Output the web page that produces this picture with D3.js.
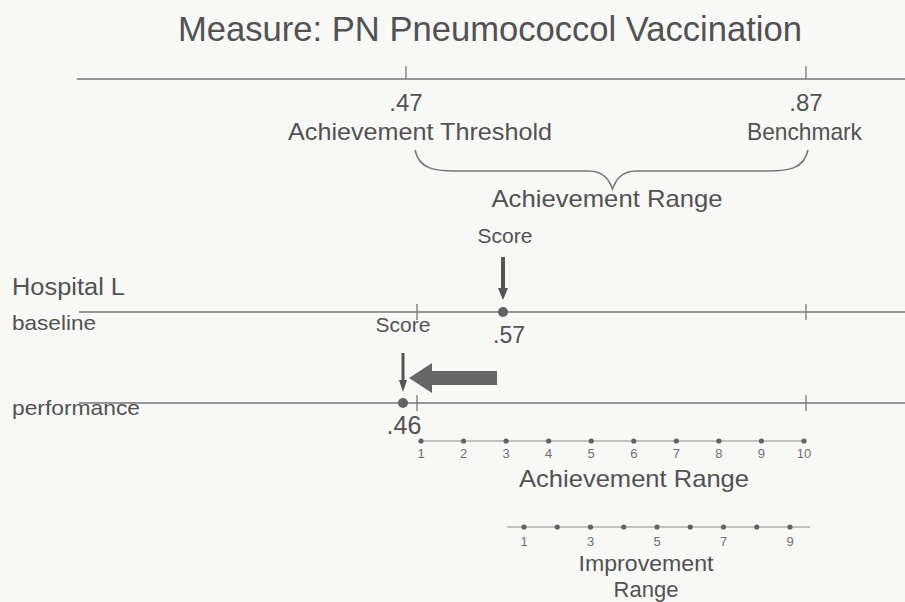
<!DOCTYPE html>
<html>
<head>
<meta charset="utf-8">
<script src="https://cdn.jsdelivr.net/npm/d3@7"></script>
<style>
  html, body { margin: 0; padding: 0; background: #f8f8f7; }
  svg { display: block; font-family: "Liberation Sans", Arial, sans-serif; }
</style>
</head>
<body>
<svg id="chart" width="905" height="602"></svg>
<script>
// ---- data ----
const title = "Measure: PN Pneumococcol Vaccination";
const thresholdValues = [0.47, 0.87];
const thresholdLabels = [".47", ".87"];
const thresholdNames = ["Achievement Threshold", "Benchmark"];
const hospitalName = "Hospital L";
const periodNames = ["baseline", "performance"];
const scoreValues = [0.57, 0.46];
const scoreLabels = [".57", ".46"];
const achievementPoints = [1, 2, 3, 4, 5, 6, 7, 8, 9, 10];
const improvementPoints = [1, 2, 3, 4, 5, 6, 7, 8, 9];
const improvementTickLabels = [1, 3, 5, 7, 9];

// ---- setup ----
const svg = d3.select("#chart");
const textCol = "#525252";
const lineCol = "#777777";
const markCol = "#626262";

// scales
const xTop = d3.scaleLinear().domain([0.47, 0.87]).range([406, 806]);
const xHosp = d3.scaleLinear().domain([0.46, 0.47, 0.57, 0.87]).range([403, 417, 503, 806]);
const xAch = d3.scaleLinear().domain([1, 10]).range([421, 804]);
const xImp = d3.scaleLinear().domain([1, 9]).range([524, 790]);

// title
svg.append("text").attr("x", 490).attr("y", 41).attr("text-anchor", "middle")
  .attr("font-size", 35).attr("fill", textCol)
  .attr("textLength", 624).attr("lengthAdjust", "spacingAndGlyphs").text(title);

// top axis line
const yTop = 79;
svg.append("line").attr("x1", 77).attr("x2", 905).attr("y1", yTop).attr("y2", yTop)
  .attr("stroke", lineCol).attr("stroke-width", 1.7);
svg.selectAll(".ttick").data(thresholdValues).join("line")
  .attr("x1", d => xTop(d)).attr("x2", d => xTop(d))
  .attr("y1", yTop - 13).attr("y2", yTop)
  .attr("stroke", lineCol).attr("stroke-width", 1.3);
svg.selectAll(".tval").data(thresholdValues).join("text")
  .attr("x", d => xTop(d)).attr("y", 111).attr("text-anchor", "middle")
  .attr("font-size", 24).attr("fill", textCol)
  .text((d, i) => thresholdLabels[i]);
svg.selectAll(".tname").data(thresholdValues).join("text")
  .attr("x", (d, i) => i === 0 ? xTop(d) + 14 : xTop(d) - 1.5).attr("y", 140).attr("text-anchor", "middle")
  .attr("font-size", 24).attr("fill", textCol)
  .attr("textLength", (d, i) => i === 0 ? 264 : 115).attr("lengthAdjust", "spacingAndGlyphs")
  .text((d, i) => thresholdNames[i]);

// brace under the achievement range
const bL = xTop(0.47) + 9, bR = xTop(0.87) + 2, bM = (bL + bR) / 2 + 1;
const bTop = 150, bMid = 171, bTip = 189;
const brace = `M${bL},${bTop} C${bL + 4},${bMid - 2} ${bL + 20},${bMid} ${bL + 40},${bMid}
  L${bM - 24},${bMid} C${bM - 8},${bMid} ${bM - 3},${bTip - 8} ${bM},${bTip}
  C${bM + 3},${bTip - 8} ${bM + 8},${bMid} ${bM + 24},${bMid}
  L${bR - 40},${bMid} C${bR - 20},${bMid} ${bR - 4},${bMid - 2} ${bR},${bTop}`;
svg.append("path").attr("d", brace).attr("fill", "none").attr("stroke", lineCol).attr("stroke-width", 1.6);
svg.append("text").attr("x", 607).attr("y", 207).attr("text-anchor", "middle")
  .attr("font-size", 24).attr("fill", textCol)
  .attr("textLength", 231).attr("lengthAdjust", "spacingAndGlyphs").text("Achievement Range");

// hospital lines
const yRows = [312, 403];
svg.append("text").attr("x", 12).attr("y", 295).attr("font-size", 23).attr("fill", textCol)
  .attr("textLength", 113).attr("lengthAdjust", "spacingAndGlyphs").text(hospitalName);
svg.selectAll(".pname").data(periodNames).join("text")
  .attr("x", 12).attr("y", (d, i) => yRows[i] + (i === 0 ? 18 : 12))
  .attr("font-size", 21).attr("fill", textCol)
  .attr("textLength", (d, i) => i === 0 ? 84 : 128).attr("lengthAdjust", "spacingAndGlyphs")
  .text(d => d);
yRows.forEach(y => {
  svg.append("line").attr("x1", 79).attr("x2", 905).attr("y1", y).attr("y2", y)
    .attr("stroke", lineCol).attr("stroke-width", 1.7);
  svg.selectAll(null).data(thresholdValues).join("line")
    .attr("x1", d => xHosp(d)).attr("x2", d => xHosp(d))
    .attr("y1", y - 8).attr("y2", y + 8)
    .attr("stroke", lineCol).attr("stroke-width", 1.3);
});

// score dots
svg.selectAll(".sdot").data(scoreValues).join("circle")
  .attr("cx", d => xHosp(d)).attr("cy", (d, i) => yRows[i]).attr("r", 5)
  .attr("fill", markCol);
svg.selectAll(".slab").data(scoreValues).join("text")
  .attr("x", (d, i) => xHosp(d) + (i === 0 ? 6 : 1)).attr("y", (d, i) => yRows[i] + 31)
  .attr("text-anchor", "middle").attr("font-size", (d, i) => i === 0 ? 23 : 25).attr("fill", textCol)
  .text((d, i) => scoreLabels[i]);

// "Score" labels
svg.append("text").attr("x", xHosp(scoreValues[0]) + 2).attr("y", 243).attr("text-anchor", "middle")
  .attr("font-size", 21).attr("fill", textCol).text("Score");
svg.append("text").attr("x", xHosp(scoreValues[1])).attr("y", 332).attr("text-anchor", "middle")
  .attr("font-size", 21).attr("fill", textCol).text("Score");

// thin down arrows
function downArrow(x, y0, y1, w, hw, hl) {
  return `M${x - w / 2},${y0} L${x + w / 2},${y0} L${x + w / 2},${y1 - hl} L${x + hw},${y1 - hl}
    L${x},${y1} L${x - hw},${y1 - hl} L${x - w / 2},${y1 - hl} Z`;
}
svg.append("path").attr("d", downArrow(xHosp(scoreValues[0]), 257, 300, 4, 5, 12)).attr("fill", "#555");
svg.append("path").attr("d", downArrow(xHosp(scoreValues[1]), 353, 392, 3, 4, 12)).attr("fill", "#555");

// big left arrow (change from baseline to performance)
const tipX = xHosp(scoreValues[1]) + 6, tailX = xHosp(scoreValues[0]) - 6, ay = 378;
const bigArrow = `M${tipX},${ay} L${tipX + 23},${ay - 15} L${tipX + 23},${ay - 7} L${tailX},${ay - 7}
  L${tailX},${ay + 7} L${tipX + 23},${ay + 7} L${tipX + 23},${ay + 15} Z`;
svg.append("path").attr("d", bigArrow).attr("fill", "#666");

// achievement range points
const yAch = 441;
svg.append("line").attr("x1", xAch(1)).attr("x2", xAch(10)).attr("y1", yAch).attr("y2", yAch)
  .attr("stroke", "#8a8a8a").attr("stroke-width", 1.2);
svg.selectAll(".apt").data(achievementPoints).join("circle")
  .attr("cx", d => xAch(d)).attr("cy", yAch).attr("r", 2.6).attr("fill", markCol);
svg.selectAll(".alab").data(achievementPoints).join("text")
  .attr("x", d => xAch(d)).attr("y", yAch + 17).attr("text-anchor", "middle")
  .attr("font-size", 13).attr("fill", "#707070").text(d => d);
svg.append("text").attr("x", 634).attr("y", 487).attr("text-anchor", "middle")
  .attr("font-size", 24).attr("fill", textCol)
  .attr("textLength", 230).attr("lengthAdjust", "spacingAndGlyphs").text("Achievement Range");

// improvement range points
const yImp = 527;
svg.append("line").attr("x1", 507).attr("x2", 810).attr("y1", yImp).attr("y2", yImp)
  .attr("stroke", "#8a8a8a").attr("stroke-width", 1.2);
svg.selectAll(".ipt").data(improvementPoints).join("circle")
  .attr("cx", d => xImp(d)).attr("cy", yImp).attr("r", 2.6).attr("fill", markCol);
svg.selectAll(".ilab").data(improvementTickLabels).join("text")
  .attr("x", d => xImp(d)).attr("y", yImp + 19).attr("text-anchor", "middle")
  .attr("font-size", 13).attr("fill", "#707070").text(d => d);
svg.append("text").attr("x", 646).attr("y", 571).attr("text-anchor", "middle")
  .attr("font-size", 22).attr("fill", textCol)
  .attr("textLength", 135).attr("lengthAdjust", "spacingAndGlyphs").text("Improvement");
svg.append("text").attr("x", 646).attr("y", 597).attr("text-anchor", "middle")
  .attr("font-size", 22).attr("fill", textCol).text("Range");
</script>
</body>
</html>
